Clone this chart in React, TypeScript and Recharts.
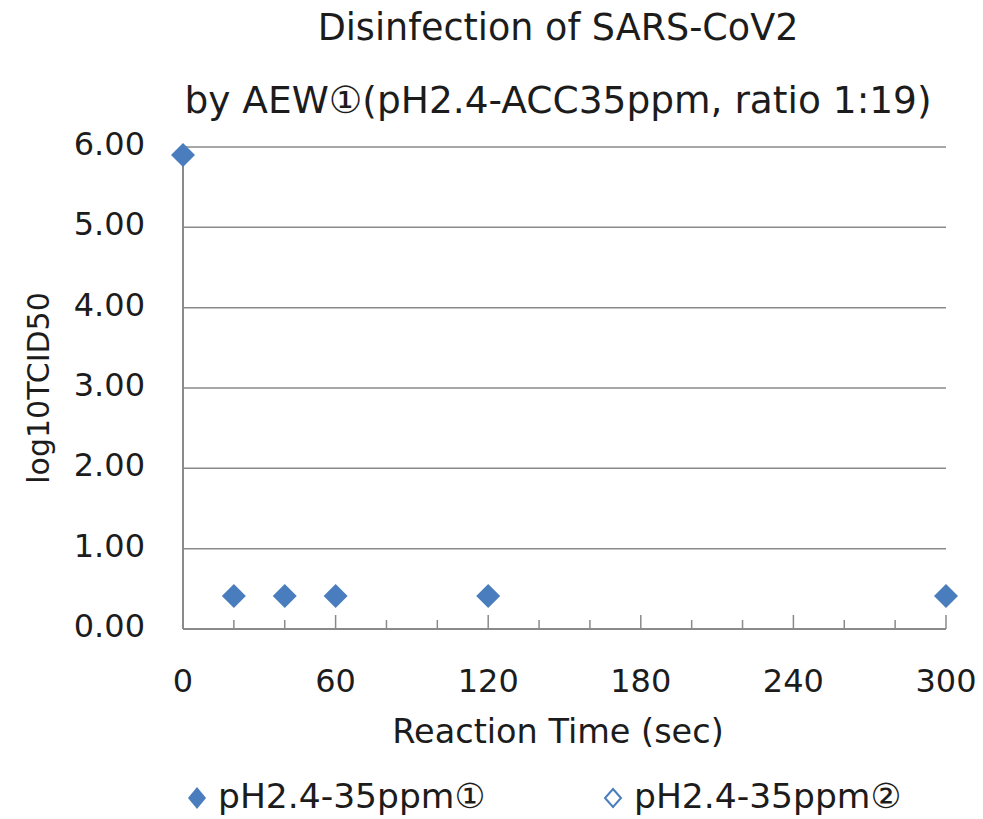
import React from 'react';
import { ScatterChart, Scatter, XAxis, YAxis, CartesianGrid, Customized } from 'recharts';

const series1Times = [0, 20, 40, 60, 120, 300];
const series1Values = [5.9, 0.41, 0.41, 0.41, 0.41, 0.41];
const series2Times: number[] = [];
const series2Values: number[] = [];
const seriesNames = ['pH2.4-35ppm①', 'pH2.4-35ppm②'];
const xTicks = [0, 20, 40, 60, 80, 100, 120, 140, 160, 180, 200, 220, 240, 260, 280, 300];
const yTicks = [0, 1, 2, 3, 4, 5, 6];
const titleLines = ['Disinfection of SARS-CoV2', 'by AEW①(pH2.4-ACC35ppm, ratio 1:19)'];
const xAxisTitle = 'Reaction Time (sec)';
const yAxisTitle = 'log10TCID50';

const data1 = series1Times.map((t, i) => ({ x: t, y: series1Values[i] }));
const data2 = series2Times.map((t, i) => ({ x: t, y: series2Values[i] }));

const FONT = '"DejaVu Sans", Verdana, sans-serif';
const TEXT = '#1c1c1c';
const BLUE = '#4a7dbd';
const GRAY = '#8a8a8a';

const XTick = (props: any) => {
  const { x, y, payload } = props;
  const v = payload.value;
  const major = v % 60 === 0;
  return (
    <g>
      <line x1={x} x2={x} y1={y} y2={y - (major ? 14 : 9)} stroke={GRAY} strokeWidth={1.5} />
      {major && (
        <text x={x} y={y + 63} textAnchor="middle" fontFamily={FONT} fontSize={32} fill={TEXT}>
          {v}
        </text>
      )}
    </g>
  );
};

const YTick = (props: any) => {
  const { x, y, payload } = props;
  return (
    <text x={x - 38} y={y + 8} textAnchor="end" fontFamily={FONT} fontSize={32} fill={TEXT}>
      {Number(payload.value).toFixed(2)}
    </text>
  );
};

const diamond = (fill: string, stroke: string, half: number, halfH: number) => (props: any) => {
  const { cx, cy } = props;
  if (cx == null || cy == null) return <g />;
  return (
    <polygon
      points={`${cx},${cy - halfH} ${cx + half},${cy} ${cx},${cy + halfH} ${cx - half},${cy}`}
      fill={fill}
      stroke={stroke}
      strokeWidth={stroke === 'none' ? 0 : 2}
    />
  );
};

const Texts = () => (
  <g fontFamily={FONT} fill={TEXT}>
    <text x={558} y={40} textAnchor="middle" fontSize={36.5}>{titleLines[0]}</text>
    <text x={558} y={113} textAnchor="middle" fontSize={37.5}>{titleLines[1]}</text>
    <text x={558} y={743} textAnchor="middle" fontSize={33.5}>{xAxisTitle}</text>
    <text x={38} y={388} textAnchor="middle" fontSize={30} transform="rotate(-90 38 388)" dominantBaseline="central">
      {yAxisTitle}
    </text>
    <polygon points="197,787 206,798 197,809 188,798" fill={BLUE} />
    <text x={218} y={808} fontSize={34.5}>{seriesNames[0]}</text>
    <polygon points="613,789 621,798 613,807 605,798" fill="#ffffff" stroke={BLUE} strokeWidth={2} />
    <text x={634} y={808} fontSize={34.5}>{seriesNames[1]}</text>
  </g>
);

export default function App() {
  return (
    <div style={{ position: 'absolute', left: 0, top: 0 }}>
      <ScatterChart width={983} height={819} margin={{ top: 147, right: 37, bottom: 130, left: 0 }}>
        <CartesianGrid horizontal vertical={false} stroke={GRAY} strokeWidth={1.5} />
        <XAxis
          type="number"
          dataKey="x"
          domain={[0, 300]}
          ticks={xTicks}
          interval={0}
          height={60}
          axisLine={{ stroke: GRAY, strokeWidth: 2 }}
          tickLine={false}
          tickSize={0}
          tickMargin={0}
          tick={<XTick />}
        />
        <YAxis
          type="number"
          dataKey="y"
          domain={[0, 6]}
          ticks={yTicks}
          interval={0}
          width={183}
          axisLine={{ stroke: GRAY, strokeWidth: 2 }}
          tickLine={false}
          tickSize={0}
          tickMargin={0}
          tick={<YTick />}
        />
        <Scatter name={seriesNames[1]} data={data2} isAnimationActive={false} shape={diamond('#ffffff', BLUE, 10, 11)} />
        <Scatter name={seriesNames[0]} data={data1} isAnimationActive={false} shape={diamond(BLUE, 'none', 12, 12)} />
        <Customized component={Texts} />
      </ScatterChart>
    </div>
  );
}
